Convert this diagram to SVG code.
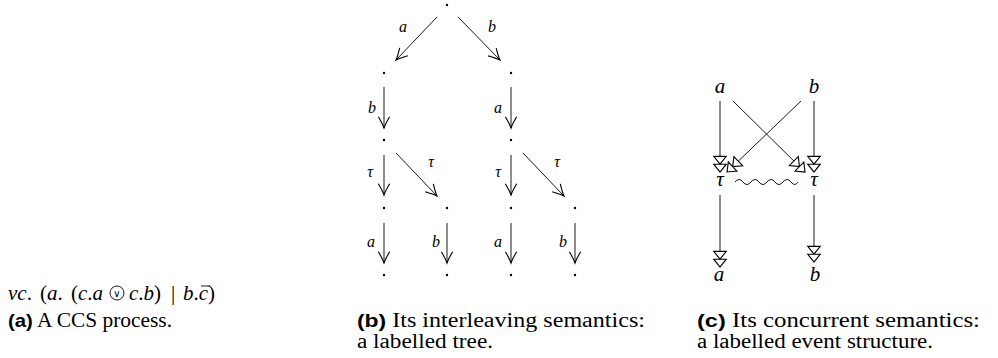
<svg xmlns="http://www.w3.org/2000/svg" width="998" height="358" viewBox="0 0 998 358">
<style>
.cap{font-family:"Liberation Serif",serif;font-size:20px;fill:#000}
.capb{font-family:"Liberation Sans",sans-serif;font-weight:bold;font-size:19px}
.m{font-family:"Liberation Serif",serif;font-style:italic;fill:#000}
.tl{font-size:16px}
.el{font-size:21px}
.fm{font-size:21px}
.up{font-style:normal}
.edge{stroke:#000;stroke-width:0.9;fill:none}
.dot{fill:#000}
</style>
<defs>
<marker id="to" markerUnits="userSpaceOnUse" markerWidth="20" markerHeight="20" viewBox="-12 -8 14 16" refX="0" refY="0" orient="auto">
<path d="M-9,-4.5 Q-3,-1 0,0 Q-3,1 -9,4.5" fill="none" stroke="#000" stroke-width="0.9"/>
</marker>
<marker id="cause" markerUnits="userSpaceOnUse" markerWidth="24" markerHeight="20" viewBox="-16 -8 18 16" refX="0" refY="0" orient="auto">
<path d="M-12.5,-5 L-12.5,5 L-6.25,0 Z M-6.25,-5 L-6.25,5 L0,0 Z" fill="#fff" stroke="#000" stroke-width="0.9"/>
</marker>
</defs>

<!-- (a) -->
<g id="formula">
<text class="m fm" x="8" y="300">νc<tspan class="up">.</tspan></text>
<text class="m fm" x="40" y="300"><tspan class="up">(</tspan>a<tspan class="up">.</tspan></text>
<text class="m fm" x="71" y="300"><tspan class="up">(</tspan>c<tspan class="up">.</tspan>a</text>
<circle cx="117" cy="293" r="7" fill="none" stroke="#000" stroke-width="0.9"/>
<text x="117" y="297" text-anchor="middle" fill="#000" style="font-family:'DejaVu Sans',sans-serif;font-size:10px">∨</text>
<text class="m fm" x="129" y="300">c<tspan class="up">.</tspan>b<tspan class="up">)</tspan></text>
<text class="cap" x="171" y="300" fill="#000" style="font-size:21px">|</text>
<text class="m fm" x="183" y="300">b<tspan class="up">.</tspan>c<tspan class="up">)</tspan></text>
<line x1="201" y1="286" x2="210" y2="286" stroke="#000" stroke-width="0.9"/>
</g>
<g id="caption-a"><text class="cap" x="8" y="327" textLength="164" lengthAdjust="spacingAndGlyphs"><tspan class="capb">(a)</tspan> A CCS process.</text></g>

<!-- (b) tree -->
<g id="tree-connectors">
<line class="edge" x1="437" y1="17" x2="396" y2="60" marker-end="url(#to)"/>
<line class="edge" x1="458" y1="17" x2="500" y2="60" marker-end="url(#to)"/>
<line class="edge" x1="384" y1="87" x2="384" y2="128" marker-end="url(#to)"/>
<line class="edge" x1="511" y1="87" x2="511" y2="128" marker-end="url(#to)"/>
<line class="edge" x1="384" y1="155" x2="384" y2="195" marker-end="url(#to)"/>
<line class="edge" x1="396" y1="153" x2="437" y2="196" marker-end="url(#to)"/>
<line class="edge" x1="511" y1="155" x2="511" y2="195" marker-end="url(#to)"/>
<line class="edge" x1="523" y1="153" x2="564" y2="196" marker-end="url(#to)"/>
<line class="edge" x1="384" y1="223" x2="384" y2="263" marker-end="url(#to)"/>
<line class="edge" x1="447" y1="223" x2="447" y2="263" marker-end="url(#to)"/>
<line class="edge" x1="511" y1="223" x2="511" y2="263" marker-end="url(#to)"/>
<line class="edge" x1="575" y1="223" x2="575" y2="263" marker-end="url(#to)"/>
<g class="m tl" text-anchor="middle">
<text x="403" y="32">a</text>
<text x="492" y="32">b</text>
<text x="372" y="113">b</text>
<text x="498" y="113">a</text>
<text x="370" y="177">τ</text>
<text x="431" y="167">τ</text>
<text x="498" y="177">τ</text>
<text x="557" y="167">τ</text>
<text x="371" y="247">a</text>
<text x="436" y="247">b</text>
<text x="498" y="247">a</text>
<text x="563" y="247">b</text>
</g>
</g>
<g id="tree-nodes">
<circle id="n0" class="dot" cx="447" cy="5" r="1.2"/>
<circle id="n1" class="dot" cx="384" cy="73" r="1.2"/>
<circle id="n2" class="dot" cx="511" cy="73" r="1.2"/>
<circle id="n3" class="dot" cx="384" cy="140" r="1.2"/>
<circle id="n4" class="dot" cx="511" cy="140" r="1.2"/>
<circle id="n5" class="dot" cx="384" cy="208" r="1.2"/>
<circle id="n6" class="dot" cx="447" cy="208" r="1.2"/>
<circle id="n7" class="dot" cx="511" cy="208" r="1.2"/>
<circle id="n8" class="dot" cx="575" cy="208" r="1.2"/>
<circle id="n9" class="dot" cx="384" cy="275" r="1.2"/>
<circle id="n10" class="dot" cx="447" cy="275" r="1.2"/>
<circle id="n11" class="dot" cx="511" cy="275" r="1.2"/>
<circle id="n12" class="dot" cx="575" cy="275" r="1.2"/>
</g>
<g id="caption-b">
<text class="cap" x="357" y="327" textLength="288" lengthAdjust="spacingAndGlyphs"><tspan class="capb">(b)</tspan> Its interleaving semantics:</text>
<text class="cap" x="357" y="348" textLength="136" lengthAdjust="spacingAndGlyphs">a labelled tree.</text>
</g>

<!-- (c) event structure -->
<g id="es-connectors">
<line class="edge" x1="720" y1="101" x2="720" y2="172" marker-end="url(#cause)"/>
<line class="edge" x1="814" y1="101" x2="814" y2="172" marker-end="url(#cause)"/>
<line class="edge" x1="733" y1="101" x2="805" y2="172" marker-end="url(#cause)"/>
<line class="edge" x1="801" y1="101" x2="727" y2="172" marker-end="url(#cause)"/>
<line class="edge" x1="720" y1="195" x2="720" y2="267" marker-end="url(#cause)"/>
<line class="edge" x1="814" y1="195" x2="814" y2="262" marker-end="url(#cause)"/>
<path class="edge" d="M735,182 q4,-5 8,0 t8,0 t8,0 t8,0 t8,0 t8,0 t8,0 t7,0"/>
</g>
<g id="e-a1"><text class="m el" x="720" y="93" text-anchor="middle">a</text></g>
<g id="e-b1"><text class="m el" x="814" y="93" text-anchor="middle">b</text></g>
<g id="e-t1"><text class="m el" x="720" y="186" text-anchor="middle">τ</text></g>
<g id="e-t2"><text class="m el" x="814" y="186" text-anchor="middle">τ</text></g>
<g id="e-a2"><text class="m el" x="719" y="281" text-anchor="middle">a</text></g>
<g id="e-b2"><text class="m el" x="815" y="281" text-anchor="middle">b</text></g>
<g id="caption-c">
<text class="cap" x="697" y="327" textLength="283" lengthAdjust="spacingAndGlyphs"><tspan class="capb">(c)</tspan> Its concurrent semantics:</text>
<text class="cap" x="697" y="348" textLength="236" lengthAdjust="spacingAndGlyphs">a labelled event structure.</text>
</g>
</svg>
